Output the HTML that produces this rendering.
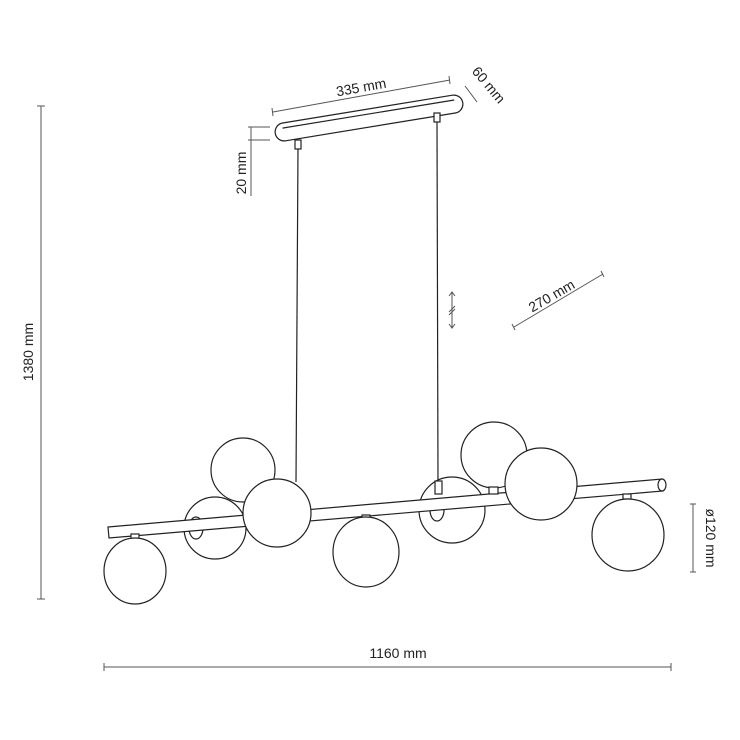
<!DOCTYPE html>
<html><head><meta charset="utf-8"><style>
html,body{margin:0;padding:0;background:#fff;}
svg{display:block}
text{font-family:"Liberation Sans",sans-serif;font-size:14px;fill:#222}
</style></head><body>
<svg width="740" height="740" viewBox="0 0 740 740" xmlns="http://www.w3.org/2000/svg">
<g stroke="#555" stroke-width="1" fill="none">
  <line x1="41" y1="106" x2="41" y2="599"/>
  <line x1="37" y1="106" x2="45" y2="106"/><line x1="37" y1="599" x2="45" y2="599"/>
  <line x1="104" y1="667" x2="671" y2="667"/>
  <line x1="104" y1="663" x2="104" y2="671"/><line x1="671" y1="663" x2="671" y2="671"/>
  <line x1="693" y1="504" x2="693" y2="572"/>
  <line x1="690" y1="504" x2="696" y2="504"/><line x1="690" y1="572" x2="696" y2="572"/>
  <line x1="273" y1="112" x2="450" y2="80"/>
  <line x1="272" y1="108" x2="273" y2="116"/><line x1="449" y1="76" x2="450" y2="84"/>
  <line x1="465" y1="86" x2="477" y2="102"/>
  <line x1="251" y1="127" x2="251" y2="196"/>
  <line x1="248" y1="127" x2="270" y2="127"/><line x1="248" y1="140" x2="270" y2="140"/>
  <line x1="514" y1="327" x2="603" y2="274"/>
  <line x1="512" y1="324" x2="515" y2="330"/><line x1="601" y1="271" x2="604" y2="277"/>
  <line x1="452" y1="292" x2="452" y2="328"/>
  <polyline points="449,296 452,292 455,296"/><polyline points="449,324 452,328 455,324"/>
  <line x1="449" y1="312" x2="455" y2="306"/><line x1="449" y1="315" x2="455" y2="309"/>
</g>
<text x="362" y="92" transform="rotate(-10 362 92)" text-anchor="middle">335 mm</text>
<text x="485" y="88" transform="rotate(50 485 88)" text-anchor="middle">60 mm</text>
<text x="246" y="173" transform="rotate(-90 246 173)" text-anchor="middle">20 mm</text>
<text x="33" y="352" transform="rotate(-90 33 352)" text-anchor="middle">1380 mm</text>
<text x="398" y="658" text-anchor="middle">1160 mm</text>
<text x="706" y="538" transform="rotate(90 706 538)" text-anchor="middle">ø120 mm</text>
<text x="554" y="300" transform="rotate(-30 554 300)" text-anchor="middle">270 mm</text>

<g stroke="#222" stroke-width="1.2" fill="#fff">
  <g transform="rotate(-9.3 369 118)">
    <rect x="274" y="109" width="190" height="18" rx="9"/>
    <line x1="282" y1="114" x2="456" y2="114"/>
  </g>
  <rect x="295" y="140" width="6" height="9"/>
  <rect x="434" y="113" width="6" height="9"/>
  <line x1="298" y1="149" x2="296" y2="482"/>
  <line x1="437" y1="122" x2="438" y2="482"/>
  <circle cx="243" cy="470" r="32"/>
  <circle cx="494" cy="455" r="33"/>
  <circle cx="215" cy="528" r="31"/>
  <circle cx="452" cy="510" r="33"/>
  <ellipse cx="196" cy="528" rx="7" ry="11"/>
  <ellipse cx="437" cy="510" rx="7" ry="11"/>
  <path d="M108,527 L662,479 L663,491 L109,538 Z"/>
  <ellipse cx="662" cy="485" rx="4" ry="6"/>
  <rect x="435" y="481" width="7" height="13"/>
  <rect x="489" y="487" width="9" height="7"/>
  <circle cx="277" cy="513" r="34"/>
  <circle cx="541" cy="484" r="36"/>
  <rect x="131" y="534" width="8" height="5"/>
  <ellipse cx="135" cy="571" rx="31" ry="33"/>
  <rect x="362" y="515" width="8" height="5"/>
  <ellipse cx="366" cy="552" rx="33" ry="35"/>
  <rect x="623" y="494" width="8" height="5"/>
  <ellipse cx="628" cy="535" rx="36" ry="36"/>
</g>
</svg>
</body></html>
